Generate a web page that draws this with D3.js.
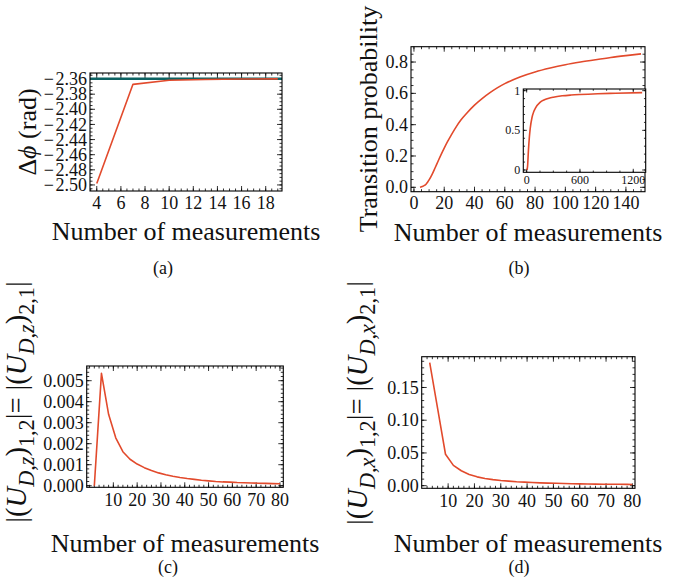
<!DOCTYPE html>
<html><head><meta charset="utf-8">
<script src="https://cdn.jsdelivr.net/npm/d3@7"></script>
<style>body{margin:0;background:#fff}svg{display:block}text{font-family:"Liberation Serif","DejaVu Serif",serif;fill:#111}</style>
</head><body>
<svg id="c" width="681" height="580"></svg>
<script>
// ---- data (a) ----
const aN = [4, 7, 10, 13, 16, 19];
const aPhase = [-2.498, -2.367, -2.3615, -2.3605, -2.3600, -2.3598];
const aTrue = [-2.3596, -2.3596];
const aTicksX = [4, 6, 8, 10, 12, 14, 16, 18];
const aTicksY = [-2.50, -2.48, -2.46, -2.44, -2.42, -2.40, -2.38, -2.36];
// ---- data (b) ----
const bN = [4, 5, 6, 7, 8, 9, 10, 12, 14, 16, 18, 20, 22, 25, 28, 31, 35, 40, 45, 50, 55, 60, 70, 80, 90, 100, 110, 120, 130, 140, 150];
const bProb = [0.0, 0.003, 0.007, 0.012, 0.02, 0.032, 0.047, 0.083, 0.125, 0.168, 0.21, 0.25, 0.288, 0.34, 0.388, 0.43, 0.475, 0.525, 0.567, 0.603, 0.635, 0.662, 0.705, 0.737, 0.762, 0.783, 0.80, 0.815, 0.829, 0.841, 0.852];
const bTicksX = [0, 20, 40, 60, 80, 100, 120, 140];
const bTicksY = [0, 0.2, 0.4, 0.6, 0.8];
const insN = [4, 10, 20, 30, 40, 60, 80, 100, 150, 200, 250, 300, 400, 500, 600, 800, 1000, 1300];
const insProb = [0.0, 0.047, 0.25, 0.41, 0.525, 0.662, 0.737, 0.783, 0.852, 0.885, 0.905, 0.918, 0.935, 0.945, 0.952, 0.962, 0.968, 0.975];
const insTicksX = [0, 600, 1200];
const insTicksY = [0, 0.5, 1];
// ---- data (c) ----
const cN = [2, 5, 8, 11, 14, 17, 20, 23, 26, 29, 32, 35, 38, 41, 44, 47, 50, 53, 56, 59, 62, 65, 68, 71, 74, 77, 80];
const cVal = [0, 0.00535, 0.0034, 0.00228, 0.00162, 0.00126, 0.00103, 0.00086, 0.00072, 0.00061, 0.00052, 0.00045, 0.00039, 0.00034, 0.0003, 0.00026, 0.00023, 0.0002, 0.00018, 0.00017, 0.00015, 0.00014, 0.00013, 0.00012, 0.00011, 0.0001, 0.00009];
const cTicksX = [10, 20, 30, 40, 50, 60, 70, 80];
const cTicksY = [0, 0.001, 0.002, 0.003, 0.004, 0.005];
// ---- data (d) ----
const dN = [3, 6, 9, 12, 15, 18, 21, 24, 27, 30, 33, 36, 39, 42, 45, 48, 51, 54, 57, 60, 63, 66, 69, 72, 75, 78, 80];
const dVal = [0.188, 0.118, 0.048, 0.031, 0.0228, 0.0172, 0.0135, 0.011, 0.0092, 0.0079, 0.0069, 0.006, 0.0054, 0.0048, 0.0043, 0.0039, 0.0036, 0.0033, 0.003, 0.0028, 0.0026, 0.0024, 0.0023, 0.0022, 0.0021, 0.002, 0.0019];
const dTicksX = [10, 20, 30, 40, 50, 60, 70, 80];
const dTicksY = [0, 0.05, 0.10, 0.15];

const RED = "#e24a2c", TEAL = "#0d6262";
const svg = d3.select("#c");

function range(a, b, s) { const r = []; for (let v = a; v <= b + s * 1e-6; v += s) r.push(+v.toFixed(8)); return r; }

function panel(o) {
  const x = d3.scaleLinear().domain(o.xd).range([o.L, o.R]);
  const y = d3.scaleLinear().domain(o.yd).range([o.B, o.T]);
  const g = svg.append("g");
  if (o.fill) g.append("rect").attr("x", o.L).attr("y", o.T).attr("width", o.R - o.L).attr("height", o.B - o.T).attr("fill", "#fff");
  const big = o.tl || 5, sm = big / 2;
  const minX = o.mx.filter(v => v >= o.xd[0] && v <= o.xd[1]);
  const minY = o.my.filter(v => v >= o.yd[0] && v <= o.yd[1]);
  const tk = g.append("g").attr("stroke", "#000").attr("stroke-width", 0.8);
  const addX = (vals, len) => vals.forEach(v => {
    tk.append("line").attr("x1", x(v)).attr("x2", x(v)).attr("y1", o.B).attr("y2", o.B - len);
    tk.append("line").attr("x1", x(v)).attr("x2", x(v)).attr("y1", o.T).attr("y2", o.T + len);
  });
  const addY = (vals, len) => vals.forEach(v => {
    tk.append("line").attr("y1", y(v)).attr("y2", y(v)).attr("x1", o.L).attr("x2", o.L + len);
    tk.append("line").attr("y1", y(v)).attr("y2", y(v)).attr("x1", o.R).attr("x2", o.R - len);
  });
  addX(minX, sm); addX(o.tx, big); addY(minY, sm); addY(o.ty, big);
  const fs = o.fs || 18;
  o.tx.forEach(v => g.append("text").attr("x", x(v)).attr("y", o.B + (o.xo || 18.5)).attr("text-anchor", "middle").attr("font-size", fs).text(o.fx(v)));
  o.ty.forEach(v => g.append("text").attr("x", o.L - 3).attr("y", y(v) + fs * 0.34).attr("text-anchor", "end").attr("font-size", fs).text(o.fy(v)));
  const clip = "clip" + Math.random().toString(36).slice(2);
  g.append("clipPath").attr("id", clip).append("rect").attr("x", o.L).attr("y", o.T).attr("width", o.R - o.L).attr("height", o.B - o.T);
  const lg = g.append("g").attr("clip-path", `url(#${clip})`);
  (o.series || []).forEach(s => {
    const line = d3.line().x((d, i) => x(s.x[i])).y(d => y(d)).curve(s.smooth ? d3.curveMonotoneX : d3.curveLinear);
    lg.append("path").attr("d", line(s.y)).attr("fill", "none").attr("stroke", s.c).attr("stroke-width", s.w).attr("stroke-linejoin", "round");
  });
  g.append("rect").attr("x", o.L).attr("y", o.T).attr("width", o.R - o.L).attr("height", o.B - o.T).attr("fill", "none").attr("stroke", "#000").attr("stroke-width", 1.1);
  return { x, y, g };
}

function rich(x, y, parts, fs) {
  const t = svg.append("text").attr("transform", `translate(${x},${y}) rotate(-90)`).attr("text-anchor", "middle").attr("font-size", fs);
  let cur = 0;
  parts.forEach(p => {
    const off = p.sub ? fs * 0.28 : 0;
    const ts = t.append("tspan").text(p.t).attr("dy", off - cur);
    cur = off;
    if (p.sub) ts.attr("font-size", fs * 0.78);
    if (p.it) ts.attr("font-style", "italic");
  });
  return t;
}

// (a)
const fmtA = v => "\u2212\u200a" + Math.abs(v).toFixed(2);
panel({ L: 90, R: 282, T: 73, B: 191, xd: [3.44, 19.35], yd: [-2.508, -2.352],
  tx: aTicksX, ty: aTicksY, mx: range(3.5, 19.5, 0.5), my: range(-2.51, -2.35, 0.005),
  fx: v => v, fy: fmtA, xo: 18,
  series: [{ x: [3.44, 19.35], y: aTrue, c: TEAL, w: 2.6 }, { x: aN, y: aPhase, c: RED, w: 1.6 }] });
svg.append("text").attr("x", 186).attr("y", 240).attr("text-anchor", "middle").attr("font-size", 26).text("Number of measurements");
const ta = svg.append("text").attr("transform", "translate(36,132) rotate(-90)").attr("text-anchor", "middle").attr("font-size", 26);
ta.append("tspan").text("\u0394"); ta.append("tspan").attr("font-style", "italic").text("\u03d5"); ta.append("tspan").text(" (rad)");
svg.append("text").attr("x", 163).attr("y", 274).attr("text-anchor", "middle").attr("font-size", 18).text("(a)");

// (b)
panel({ L: 411, R: 645, T: 46.7, B: 191.7, xd: [-1.94, 152.6], yd: [-0.028, 0.898],
  tx: bTicksX, ty: bTicksY, mx: range(0, 150, 5), my: range(0, 0.9, 0.05),
  fx: v => v, fy: v => v.toFixed(1), xo: 17,
  series: [{ x: bN, y: bProb, c: RED, w: 1.6, smooth: true }] });
svg.append("text").attr("x", 528).attr("y", 241).attr("text-anchor", "middle").attr("font-size", 26).text("Number of measurements");
svg.append("text").attr("transform", "translate(377,119) rotate(-90)").attr("text-anchor", "middle").attr("font-size", 26).text("Transition probability");
svg.append("text").attr("x", 519).attr("y", 274).attr("text-anchor", "middle").attr("font-size", 18).text("(b)");
panel({ L: 523.3, R: 645.7, T: 89, B: 172.3, xd: [-38, 1340], yd: [-0.029, 1.021], fill: true, tl: 3.5, fs: 12, xo: 12,
  tx: insTicksX, ty: insTicksY, mx: range(0, 1300, 150), my: range(0, 1, 0.1),
  fx: v => v, fy: v => v,
  series: [{ x: insN, y: insProb, c: RED, w: 1.6, smooth: true }] });

// (c)
panel({ L: 86.7, R: 283.3, T: 366, B: 487.3, xd: [-1.2, 81.4], yd: [-0.000076, 0.0057],
  tx: cTicksX, ty: cTicksY, mx: range(0, 81, 2), my: range(0, 0.0057, 0.0002),
  fx: v => v, fy: v => v.toFixed(3),
  series: [{ x: cN, y: cVal, c: RED, w: 1.6 }] });
svg.append("text").attr("x", 185).attr("y", 552).attr("text-anchor", "middle").attr("font-size", 26).text("Number of measurements");
rich(26, 402, [{ t: "|(" }, { t: "U", it: true }, { t: "D", it: true, sub: true }, { t: ",", sub: true }, { t: "z", it: true, sub: true }, { t: ")" }, { t: "1,2", sub: true }, { t: "|= |(" }, { t: "U", it: true }, { t: "D", it: true, sub: true }, { t: ",", sub: true }, { t: "z", it: true, sub: true }, { t: ")" }, { t: "2,1", sub: true }, { t: "|" }], 28.5);
svg.append("text").attr("x", 168).attr("y", 573).attr("text-anchor", "middle").attr("font-size", 18).text("(c)");

// (d)
panel({ L: 421.7, R: 635, T: 356.7, B: 488.3, xd: [-0.04, 81.0], yd: [-0.004, 0.197],
  tx: dTicksX, ty: dTicksY, mx: range(2, 81, 2), my: range(0, 0.19, 0.01),
  fx: v => v, fy: v => v.toFixed(2),
  series: [{ x: dN, y: dVal, c: RED, w: 1.6 }] });
svg.append("text").attr("x", 528).attr("y", 552).attr("text-anchor", "middle").attr("font-size", 26).text("Number of measurements");
rich(367, 403, [{ t: "|(" }, { t: "U", it: true }, { t: "D", it: true, sub: true }, { t: ",", sub: true }, { t: "x", it: true, sub: true }, { t: ")" }, { t: "1,2", sub: true }, { t: "|= |(" }, { t: "U", it: true }, { t: "D", it: true, sub: true }, { t: ",", sub: true }, { t: "x", it: true, sub: true }, { t: ")" }, { t: "2,1", sub: true }, { t: "|" }], 28.5);
svg.append("text").attr("x", 519).attr("y", 573).attr("text-anchor", "middle").attr("font-size", 18).text("(d)");
</script>
</body></html>
